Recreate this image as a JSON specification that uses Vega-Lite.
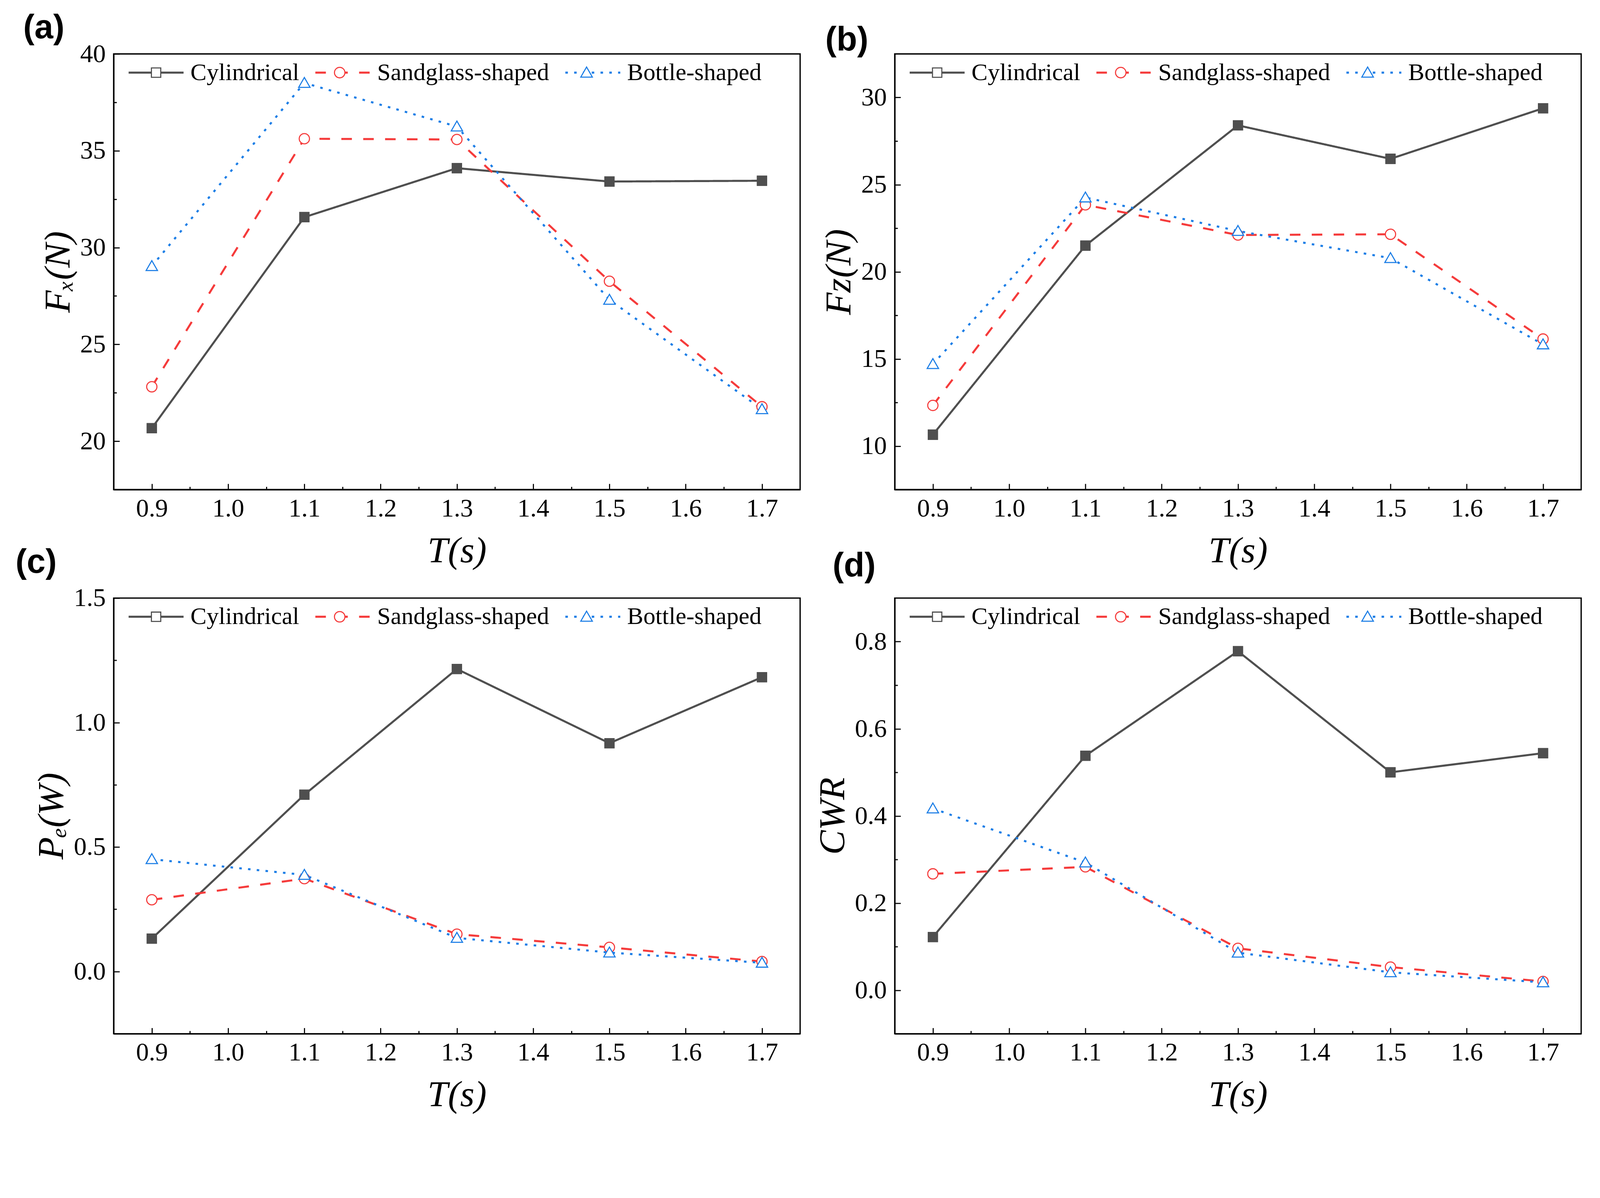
{
  "$schema": "https://vega.github.io/schema/vega-lite/v6.json",
  "autosize": {"type": "none"},
  "padding": {"left": 291, "top": 138, "right": 3805, "bottom": 2737},
  "background": "white",
  "data": {
    "values": [
      {"p": "a", "T": 0.9, "s": "Cylindrical", "v": 20.67},
      {"p": "a", "T": 1.1, "s": "Cylindrical", "v": 31.57},
      {"p": "a", "T": 1.3, "s": "Cylindrical", "v": 34.1},
      {"p": "a", "T": 1.5, "s": "Cylindrical", "v": 33.41},
      {"p": "a", "T": 1.7, "s": "Cylindrical", "v": 33.45},
      {"p": "a", "T": 0.9, "s": "Sandglass-shaped", "v": 22.81},
      {"p": "a", "T": 1.1, "s": "Sandglass-shaped", "v": 35.62},
      {"p": "a", "T": 1.3, "s": "Sandglass-shaped", "v": 35.58},
      {"p": "a", "T": 1.5, "s": "Sandglass-shaped", "v": 28.26},
      {"p": "a", "T": 1.7, "s": "Sandglass-shaped", "v": 21.78},
      {"p": "a", "T": 0.9, "s": "Bottle-shaped", "v": 29.04},
      {"p": "a", "T": 1.1, "s": "Bottle-shaped", "v": 38.5},
      {"p": "a", "T": 1.3, "s": "Bottle-shaped", "v": 36.25},
      {"p": "a", "T": 1.5, "s": "Bottle-shaped", "v": 27.3},
      {"p": "a", "T": 1.7, "s": "Bottle-shaped", "v": 21.65},
      {"p": "b", "T": 0.9, "s": "Cylindrical", "v": 10.65},
      {"p": "b", "T": 1.1, "s": "Cylindrical", "v": 21.5},
      {"p": "b", "T": 1.3, "s": "Cylindrical", "v": 28.4},
      {"p": "b", "T": 1.5, "s": "Cylindrical", "v": 26.48},
      {"p": "b", "T": 1.7, "s": "Cylindrical", "v": 29.38},
      {"p": "b", "T": 0.9, "s": "Sandglass-shaped", "v": 12.33},
      {"p": "b", "T": 1.1, "s": "Sandglass-shaped", "v": 23.84},
      {"p": "b", "T": 1.3, "s": "Sandglass-shaped", "v": 22.11},
      {"p": "b", "T": 1.5, "s": "Sandglass-shaped", "v": 22.15},
      {"p": "b", "T": 1.7, "s": "Sandglass-shaped", "v": 16.14},
      {"p": "b", "T": 0.9, "s": "Bottle-shaped", "v": 14.7},
      {"p": "b", "T": 1.1, "s": "Bottle-shaped", "v": 24.26},
      {"p": "b", "T": 1.3, "s": "Bottle-shaped", "v": 22.34},
      {"p": "b", "T": 1.5, "s": "Bottle-shaped", "v": 20.78},
      {"p": "b", "T": 1.7, "s": "Bottle-shaped", "v": 15.83},
      {"p": "c", "T": 0.9, "s": "Cylindrical", "v": 0.132},
      {"p": "c", "T": 1.1, "s": "Cylindrical", "v": 0.71},
      {"p": "c", "T": 1.3, "s": "Cylindrical", "v": 1.215},
      {"p": "c", "T": 1.5, "s": "Cylindrical", "v": 0.917},
      {"p": "c", "T": 1.7, "s": "Cylindrical", "v": 1.182},
      {"p": "c", "T": 0.9, "s": "Sandglass-shaped", "v": 0.288},
      {"p": "c", "T": 1.1, "s": "Sandglass-shaped", "v": 0.373},
      {"p": "c", "T": 1.3, "s": "Sandglass-shaped", "v": 0.15},
      {"p": "c", "T": 1.5, "s": "Sandglass-shaped", "v": 0.097},
      {"p": "c", "T": 1.7, "s": "Sandglass-shaped", "v": 0.04},
      {"p": "c", "T": 0.9, "s": "Bottle-shaped", "v": 0.451},
      {"p": "c", "T": 1.1, "s": "Bottle-shaped", "v": 0.388},
      {"p": "c", "T": 1.3, "s": "Bottle-shaped", "v": 0.135},
      {"p": "c", "T": 1.5, "s": "Bottle-shaped", "v": 0.076},
      {"p": "c", "T": 1.7, "s": "Bottle-shaped", "v": 0.035},
      {"p": "d", "T": 0.9, "s": "Cylindrical", "v": 0.122},
      {"p": "d", "T": 1.1, "s": "Cylindrical", "v": 0.538},
      {"p": "d", "T": 1.3, "s": "Cylindrical", "v": 0.778},
      {"p": "d", "T": 1.5, "s": "Cylindrical", "v": 0.5},
      {"p": "d", "T": 1.7, "s": "Cylindrical", "v": 0.544},
      {"p": "d", "T": 0.9, "s": "Sandglass-shaped", "v": 0.267},
      {"p": "d", "T": 1.1, "s": "Sandglass-shaped", "v": 0.283},
      {"p": "d", "T": 1.3, "s": "Sandglass-shaped", "v": 0.096},
      {"p": "d", "T": 1.5, "s": "Sandglass-shaped", "v": 0.053},
      {"p": "d", "T": 1.7, "s": "Sandglass-shaped", "v": 0.02},
      {"p": "d", "T": 0.9, "s": "Bottle-shaped", "v": 0.417},
      {"p": "d", "T": 1.1, "s": "Bottle-shaped", "v": 0.293},
      {"p": "d", "T": 1.3, "s": "Bottle-shaped", "v": 0.086},
      {"p": "d", "T": 1.5, "s": "Bottle-shaped", "v": 0.041},
      {"p": "d", "T": 1.7, "s": "Bottle-shaped", "v": 0.018}
    ]
  },
  "columns": 2,
  "spacing": {"row": 277.6, "column": 241.5},
  "bounds": "flush",
  "resolve": {"scale": {"color": "independent", "shape": "independent", "strokeDash": "independent", "stroke": "independent"}},
  "concat": [
    {
      "width": 1757.3,
      "height": 1115,
      "title": {"text": "(a)", "dx": -231.6, "dy": 14},
      "transform": [{"filter": "datum.p === 'a'"}],
      "layer": [
        {
          "mark": {"type": "line", "strokeWidth": 5.2, "strokeCap": "butt"},
          "encoding": {
            "x": {"field": "T", "type": "quantitative", "scale": {"domain": [0.85, 1.75], "nice": false, "zero": false},
              "axis": {"values": [0.9, 0.95, 1.0, 1.05, 1.1, 1.15, 1.2, 1.25, 1.3, 1.35, 1.4, 1.45, 1.5, 1.55, 1.6, 1.65, 1.7],
                "labelExpr": "abs(datum.value*10-round(datum.value*10))<0.01 ? format(datum.value,'.1f') : ''",
                "tickSize": {"condition": {"test": "abs(datum.value*10-round(datum.value*10))<0.01", "value": -15}, "value": -7.5},
                "labelPadding": 31, "title": "T(s)", "titlePadding": 22}},
            "y": {"field": "v", "type": "quantitative", "scale": {"domain": [17.5, 40], "nice": false, "zero": false},
              "axis": {"values": [20, 22.5, 25, 27.5, 30, 32.5, 35, 37.5, 40],
                "labelExpr": "datum.value % 5 === 0 ? format(datum.value,'d') : ''",
                "tickSize": {"condition": {"test": "datum.value % 5 === 0", "value": -15}, "value": -7.5},
                "labelPadding": 35.6, "title": "Fₓ(N)", "titlePadding": 7.5}},
            "stroke": {"field": "s", "type": "nominal", "sort": {"field": "v", "op": "max", "order": "ascending"}, "scale": {"range": ["#4f4f4f", "#f53b3b", "#1c7ee6"]},
              "legend": {"orient": "none", "legendX": 35.6, "legendY": -25.2, "direction": "horizontal", "title": null, "symbolType": "stroke", "symbolSize": 19775, "symbolStrokeWidth": 5.2, "labelOffset": 15, "columnPadding": 30}},
            "strokeDash": {"field": "s", "type": "nominal", "sort": {"field": "v", "op": "max", "order": "ascending"}, "scale": {"range": [[1, 0], [27, 29], [6.5, 16]]},
              "legend": {"orient": "none", "legendX": 35.6, "legendY": -25.2, "direction": "horizontal", "title": null, "symbolType": "stroke", "symbolSize": 19775, "symbolStrokeWidth": 5.2, "labelOffset": 15, "columnPadding": 30}}
          }
        },
        {
          "mark": {"type": "point", "filled": false, "fill": "white", "strokeWidth": 2.8, "size": 19775, "opacity": 1},
          "encoding": {
            "x": {"field": "T", "type": "quantitative"},
            "y": {"field": "v", "type": "quantitative"},
            "color": {"field": "s", "type": "nominal", "scale": {"domain": ["Cylindrical", "Sandglass-shaped", "Bottle-shaped"], "range": ["#4f4f4f", "#f53b3b", "#1c7ee6"]},
              "legend": {"orient": "none", "legendX": 35.6, "legendY": -25.2, "direction": "horizontal", "title": null, "symbolSize": 20506, "symbolStrokeWidth": 2.8, "labelOffset": 15, "columnPadding": 30, "labelOpacity": 0}},
            "shape": {"field": "s", "type": "nominal", "scale": {"domain": ["Cylindrical", "Sandglass-shaped", "Bottle-shaped"], "range": ["M-0.167,-0.167H0.167V0.167H-0.167Z", "M-0.187,0A0.187,0.187,0,1,1,0.187,0A0.187,0.187,0,1,1,-0.187,0Z", "M0,-0.2L0.207,0.16L-0.207,0.16Z"]},
              "legend": {"orient": "none", "legendX": 35.6, "legendY": -25.2, "direction": "horizontal", "title": null, "symbolSize": 20506, "symbolStrokeWidth": 2.8, "labelOffset": 15, "columnPadding": 30, "labelOpacity": 0}}
          }
        },
        {
          "transform": [{"filter": "datum.s === 'Cylindrical'"}],
          "mark": {"type": "point", "shape": "M-0.167,-0.167H0.167V0.167H-0.167Z", "filled": true, "fill": "#4f4f4f", "stroke": "#4f4f4f", "strokeWidth": 2.8, "size": 19775, "opacity": 1},
          "encoding": {
            "x": {"field": "T", "type": "quantitative"},
            "y": {"field": "v", "type": "quantitative"}
          }
        }
      ]
    },
    {
      "width": 1757.3,
      "height": 1115,
      "title": {"text": "(b)", "dx": -177.7, "dy": 38.5},
      "transform": [{"filter": "datum.p === 'b'"}],
      "layer": [
        {
          "mark": {"type": "line", "strokeWidth": 5.2, "strokeCap": "butt"},
          "encoding": {
            "x": {"field": "T", "type": "quantitative", "scale": {"domain": [0.85, 1.75], "nice": false, "zero": false},
              "axis": {"values": [0.9, 0.95, 1.0, 1.05, 1.1, 1.15, 1.2, 1.25, 1.3, 1.35, 1.4, 1.45, 1.5, 1.55, 1.6, 1.65, 1.7],
                "labelExpr": "abs(datum.value*10-round(datum.value*10))<0.01 ? format(datum.value,'.1f') : ''",
                "tickSize": {"condition": {"test": "abs(datum.value*10-round(datum.value*10))<0.01", "value": -15}, "value": -7.5},
                "labelPadding": 31, "title": "T(s)", "titlePadding": 22}},
            "y": {"field": "v", "type": "quantitative", "scale": {"domain": [7.5, 32.5], "nice": false, "zero": false},
              "axis": {"values": [10, 12.5, 15, 17.5, 20, 22.5, 25, 27.5, 30],
                "labelExpr": "datum.value % 5 === 0 ? format(datum.value,'d') : ''",
                "tickSize": {"condition": {"test": "datum.value % 5 === 0", "value": -15}, "value": -7.5},
                "labelPadding": 35.6, "title": "Fᴢ(N)", "titlePadding": 7.5}},
            "stroke": {"field": "s", "type": "nominal", "sort": {"field": "v", "op": "median", "order": "descending"}, "scale": {"range": ["#4f4f4f", "#f53b3b", "#1c7ee6"]},
              "legend": {"orient": "none", "legendX": 35.6, "legendY": -25.2, "direction": "horizontal", "title": null, "symbolType": "stroke", "symbolSize": 19775, "symbolStrokeWidth": 5.2, "labelOffset": 15, "columnPadding": 30}},
            "strokeDash": {"field": "s", "type": "nominal", "sort": {"field": "v", "op": "median", "order": "descending"}, "scale": {"range": [[1, 0], [27, 29], [6.5, 16]]},
              "legend": {"orient": "none", "legendX": 35.6, "legendY": -25.2, "direction": "horizontal", "title": null, "symbolType": "stroke", "symbolSize": 19775, "symbolStrokeWidth": 5.2, "labelOffset": 15, "columnPadding": 30}}
          }
        },
        {
          "mark": {"type": "point", "filled": false, "fill": "white", "strokeWidth": 2.8, "size": 19775, "opacity": 1},
          "encoding": {
            "x": {"field": "T", "type": "quantitative"},
            "y": {"field": "v", "type": "quantitative"},
            "color": {"field": "s", "type": "nominal", "scale": {"domain": ["Cylindrical", "Sandglass-shaped", "Bottle-shaped"], "range": ["#4f4f4f", "#f53b3b", "#1c7ee6"]},
              "legend": {"orient": "none", "legendX": 35.6, "legendY": -25.2, "direction": "horizontal", "title": null, "symbolSize": 20506, "symbolStrokeWidth": 2.8, "labelOffset": 15, "columnPadding": 30, "labelOpacity": 0}},
            "shape": {"field": "s", "type": "nominal", "scale": {"domain": ["Cylindrical", "Sandglass-shaped", "Bottle-shaped"], "range": ["M-0.167,-0.167H0.167V0.167H-0.167Z", "M-0.187,0A0.187,0.187,0,1,1,0.187,0A0.187,0.187,0,1,1,-0.187,0Z", "M0,-0.2L0.207,0.16L-0.207,0.16Z"]},
              "legend": {"orient": "none", "legendX": 35.6, "legendY": -25.2, "direction": "horizontal", "title": null, "symbolSize": 20506, "symbolStrokeWidth": 2.8, "labelOffset": 15, "columnPadding": 30, "labelOpacity": 0}}
          }
        },
        {
          "transform": [{"filter": "datum.s === 'Cylindrical'"}],
          "mark": {"type": "point", "shape": "M-0.167,-0.167H0.167V0.167H-0.167Z", "filled": true, "fill": "#4f4f4f", "stroke": "#4f4f4f", "strokeWidth": 2.8, "size": 19775, "opacity": 1},
          "encoding": {
            "x": {"field": "T", "type": "quantitative"},
            "y": {"field": "v", "type": "quantitative"}
          }
        }
      ]
    },
    {
      "width": 1757.3,
      "height": 1115,
      "title": {"text": "(c)", "dx": -251.3, "dy": -10},
      "transform": [{"filter": "datum.p === 'c'"}],
      "layer": [
        {
          "mark": {"type": "line", "strokeWidth": 5.2, "strokeCap": "butt"},
          "encoding": {
            "x": {"field": "T", "type": "quantitative", "scale": {"domain": [0.85, 1.75], "nice": false, "zero": false},
              "axis": {"values": [0.9, 0.95, 1.0, 1.05, 1.1, 1.15, 1.2, 1.25, 1.3, 1.35, 1.4, 1.45, 1.5, 1.55, 1.6, 1.65, 1.7],
                "labelExpr": "abs(datum.value*10-round(datum.value*10))<0.01 ? format(datum.value,'.1f') : ''",
                "tickSize": {"condition": {"test": "abs(datum.value*10-round(datum.value*10))<0.01", "value": -15}, "value": -7.5},
                "labelPadding": 31, "title": "T(s)", "titlePadding": 22}},
            "y": {"field": "v", "type": "quantitative", "scale": {"domain": [-0.25, 1.5], "nice": false, "zero": false},
              "axis": {"values": [0, 0.25, 0.5, 0.75, 1, 1.25, 1.5],
                "labelExpr": "abs(datum.value*2-round(datum.value*2))<0.01 ? format(datum.value,'.1f') : ''",
                "tickSize": {"condition": {"test": "abs(datum.value*2-round(datum.value*2))<0.01", "value": -15}, "value": -7.5},
                "labelPadding": 35.6, "title": "Pₑ(W)", "titlePadding": 7.5}},
            "stroke": {"field": "s", "type": "nominal", "sort": {"field": "v", "op": "median", "order": "descending"}, "scale": {"range": ["#4f4f4f", "#f53b3b", "#1c7ee6"]},
              "legend": {"orient": "none", "legendX": 35.6, "legendY": -25.2, "direction": "horizontal", "title": null, "symbolType": "stroke", "symbolSize": 19775, "symbolStrokeWidth": 5.2, "labelOffset": 15, "columnPadding": 30}},
            "strokeDash": {"field": "s", "type": "nominal", "sort": {"field": "v", "op": "median", "order": "descending"}, "scale": {"range": [[1, 0], [27, 29], [6.5, 16]]},
              "legend": {"orient": "none", "legendX": 35.6, "legendY": -25.2, "direction": "horizontal", "title": null, "symbolType": "stroke", "symbolSize": 19775, "symbolStrokeWidth": 5.2, "labelOffset": 15, "columnPadding": 30}}
          }
        },
        {
          "mark": {"type": "point", "filled": false, "fill": "white", "strokeWidth": 2.8, "size": 19775, "opacity": 1},
          "encoding": {
            "x": {"field": "T", "type": "quantitative"},
            "y": {"field": "v", "type": "quantitative"},
            "color": {"field": "s", "type": "nominal", "scale": {"domain": ["Cylindrical", "Sandglass-shaped", "Bottle-shaped"], "range": ["#4f4f4f", "#f53b3b", "#1c7ee6"]},
              "legend": {"orient": "none", "legendX": 35.6, "legendY": -25.2, "direction": "horizontal", "title": null, "symbolSize": 20506, "symbolStrokeWidth": 2.8, "labelOffset": 15, "columnPadding": 30, "labelOpacity": 0}},
            "shape": {"field": "s", "type": "nominal", "scale": {"domain": ["Cylindrical", "Sandglass-shaped", "Bottle-shaped"], "range": ["M-0.167,-0.167H0.167V0.167H-0.167Z", "M-0.187,0A0.187,0.187,0,1,1,0.187,0A0.187,0.187,0,1,1,-0.187,0Z", "M0,-0.2L0.207,0.16L-0.207,0.16Z"]},
              "legend": {"orient": "none", "legendX": 35.6, "legendY": -25.2, "direction": "horizontal", "title": null, "symbolSize": 20506, "symbolStrokeWidth": 2.8, "labelOffset": 15, "columnPadding": 30, "labelOpacity": 0}}
          }
        },
        {
          "transform": [{"filter": "datum.s === 'Cylindrical'"}],
          "mark": {"type": "point", "shape": "M-0.167,-0.167H0.167V0.167H-0.167Z", "filled": true, "fill": "#4f4f4f", "stroke": "#4f4f4f", "strokeWidth": 2.8, "size": 19775, "opacity": 1},
          "encoding": {
            "x": {"field": "T", "type": "quantitative"},
            "y": {"field": "v", "type": "quantitative"}
          }
        }
      ]
    },
    {
      "width": 1757.3,
      "height": 1115,
      "title": {"text": "(d)", "dx": -159, "dy": -8.5},
      "transform": [{"filter": "datum.p === 'd'"}],
      "layer": [
        {
          "mark": {"type": "line", "strokeWidth": 5.2, "strokeCap": "butt"},
          "encoding": {
            "x": {"field": "T", "type": "quantitative", "scale": {"domain": [0.85, 1.75], "nice": false, "zero": false},
              "axis": {"values": [0.9, 0.95, 1.0, 1.05, 1.1, 1.15, 1.2, 1.25, 1.3, 1.35, 1.4, 1.45, 1.5, 1.55, 1.6, 1.65, 1.7],
                "labelExpr": "abs(datum.value*10-round(datum.value*10))<0.01 ? format(datum.value,'.1f') : ''",
                "tickSize": {"condition": {"test": "abs(datum.value*10-round(datum.value*10))<0.01", "value": -15}, "value": -7.5},
                "labelPadding": 31, "title": "T(s)", "titlePadding": 22}},
            "y": {"field": "v", "type": "quantitative", "scale": {"domain": [-0.1, 0.9], "nice": false, "zero": false},
              "axis": {"values": [0, 0.1, 0.2, 0.3, 0.4, 0.5, 0.6, 0.7, 0.8],
                "labelExpr": "abs(datum.value*5-round(datum.value*5))<0.01 ? format(datum.value,'.1f') : ''",
                "tickSize": {"condition": {"test": "abs(datum.value*5-round(datum.value*5))<0.01", "value": -15}, "value": -7.5},
                "labelPadding": 35.6, "title": "CWR", "titlePadding": 7.5}},
            "stroke": {"field": "s", "type": "nominal", "sort": {"field": "v", "op": "median", "order": "descending"}, "scale": {"range": ["#4f4f4f", "#f53b3b", "#1c7ee6"]},
              "legend": {"orient": "none", "legendX": 35.6, "legendY": -25.2, "direction": "horizontal", "title": null, "symbolType": "stroke", "symbolSize": 19775, "symbolStrokeWidth": 5.2, "labelOffset": 15, "columnPadding": 30}},
            "strokeDash": {"field": "s", "type": "nominal", "sort": {"field": "v", "op": "median", "order": "descending"}, "scale": {"range": [[1, 0], [27, 29], [6.5, 16]]},
              "legend": {"orient": "none", "legendX": 35.6, "legendY": -25.2, "direction": "horizontal", "title": null, "symbolType": "stroke", "symbolSize": 19775, "symbolStrokeWidth": 5.2, "labelOffset": 15, "columnPadding": 30}}
          }
        },
        {
          "mark": {"type": "point", "filled": false, "fill": "white", "strokeWidth": 2.8, "size": 19775, "opacity": 1},
          "encoding": {
            "x": {"field": "T", "type": "quantitative"},
            "y": {"field": "v", "type": "quantitative"},
            "color": {"field": "s", "type": "nominal", "scale": {"domain": ["Cylindrical", "Sandglass-shaped", "Bottle-shaped"], "range": ["#4f4f4f", "#f53b3b", "#1c7ee6"]},
              "legend": {"orient": "none", "legendX": 35.6, "legendY": -25.2, "direction": "horizontal", "title": null, "symbolSize": 20506, "symbolStrokeWidth": 2.8, "labelOffset": 15, "columnPadding": 30, "labelOpacity": 0}},
            "shape": {"field": "s", "type": "nominal", "scale": {"domain": ["Cylindrical", "Sandglass-shaped", "Bottle-shaped"], "range": ["M-0.167,-0.167H0.167V0.167H-0.167Z", "M-0.187,0A0.187,0.187,0,1,1,0.187,0A0.187,0.187,0,1,1,-0.187,0Z", "M0,-0.2L0.207,0.16L-0.207,0.16Z"]},
              "legend": {"orient": "none", "legendX": 35.6, "legendY": -25.2, "direction": "horizontal", "title": null, "symbolSize": 20506, "symbolStrokeWidth": 2.8, "labelOffset": 15, "columnPadding": 30, "labelOpacity": 0}}
          }
        },
        {
          "transform": [{"filter": "datum.s === 'Cylindrical'"}],
          "mark": {"type": "point", "shape": "M-0.167,-0.167H0.167V0.167H-0.167Z", "filled": true, "fill": "#4f4f4f", "stroke": "#4f4f4f", "strokeWidth": 2.8, "size": 19775, "opacity": 1},
          "encoding": {
            "x": {"field": "T", "type": "quantitative"},
            "y": {"field": "v", "type": "quantitative"}
          }
        }
      ]
    }
  ],
  "config": {
    "view": {"stroke": "black", "strokeWidth": 3.3},
    "axis": {
      "labelFont": "Liberation Serif", "labelFontSize": 65.6, "labelColor": "black",
      "titleFont": "Liberation Serif", "titleFontSize": 93.8, "titleFontStyle": "italic", "titleFontWeight": "normal", "titleColor": "black",
      "domainColor": "black", "domainWidth": 3.3, "tickColor": "black", "tickWidth": 2.8,
      "grid": false, "labelFlush": false, "labelOverlap": false
    },
    "legend": {"labelFont": "Liberation Serif", "labelFontSize": 61.9, "labelColor": "black", "labelLimit": 1000, "padding": 0},
    "title": {"font": "Liberation Sans", "fontSize": 86.3, "fontWeight": "bold", "color": "black", "anchor": "start", "frame": "group", "offset": 0}
  }
}
